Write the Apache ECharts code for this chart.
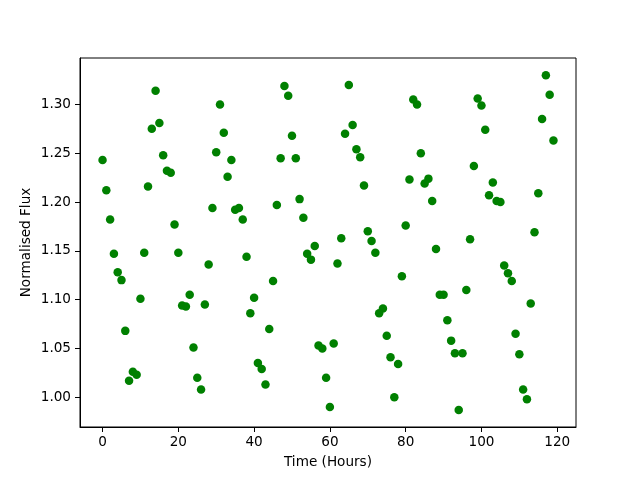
<!DOCTYPE html>
<html>
<head>
<meta charset="utf-8">
<script src="https://cdn.jsdelivr.net/npm/echarts@6/dist/echarts.min.js"></script>
<style>html,body{margin:0;padding:0;background:#fff}#c{width:640px;height:480px}</style>
</head>
<body>
<div id="c"></div>
<script>
const hours = [];
for (let i = 0; i < 120; i++) hours.push(i);
const flux = [
1.243,1.212,1.182,1.147,1.128,1.120,1.068,1.017,1.026,1.023,
1.101,1.148,1.216,1.275,1.314,1.281,1.248,1.232,1.230,1.177,
1.148,1.094,1.093,1.105,1.051,1.020,1.008,1.095,1.136,1.194,
1.251,1.300,1.271,1.226,1.243,1.192,1.194,1.182,1.144,1.086,
1.102,1.035,1.029,1.013,1.070,1.119,1.197,1.245,1.319,1.309,
1.268,1.245,1.203,1.184,1.147,1.141,1.155,1.053,1.050,1.020,
0.990,1.055,1.137,1.163,1.270,1.320,1.279,1.254,1.246,1.217,
1.170,1.160,1.148,1.086,1.091,1.063,1.041,1.000,1.034,1.124,
1.176,1.223,1.305,1.300,1.250,1.219,1.224,1.201,1.152,1.105,
1.105,1.079,1.058,1.045,0.987,1.045,1.110,1.162,1.237,1.306,
1.299,1.274,1.207,1.220,1.201,1.200,1.135,1.127,1.119,1.065,
1.044,1.008,0.998,1.096,1.169,1.209,1.285,1.330,1.310,1.263
];
const xTicks = [0, 20, 40, 60, 80, 100, 120];
const yTicks = [1.00, 1.05, 1.10, 1.15, 1.20, 1.25, 1.30];

const data = hours.map((h, i) => [h, flux[i]]);
const font = 'DejaVu Sans';
const fs = 13.6;
const chart = echarts.init(document.getElementById('c'), null, {renderer: 'canvas'});
chart.setOption({
  animation: false,
  backgroundColor: '#fff',
  grid: {left: 80, right: 64, top: 58, bottom: 53, show: true, borderColor: '#000', borderWidth: 1, backgroundColor: 'transparent'},
  xAxis: {
    type: 'value', min: -5.95, max: 124.95,
    name: 'Time (Hours)', nameLocation: 'middle', nameGap: 28, nameMoveOverlap: false,
    nameTextStyle: {fontFamily: font, fontSize: fs, color: '#000'},
    splitLine: {show: false},
    axisLine: {show: true, onZero: false, lineStyle: {color: '#000', width: 1}},
    axisTick: {show: true, length: 5, lineStyle: {color: '#000'}, customValues: xTicks},
    axisLabel: {fontFamily: font, fontSize: fs, color: '#000', margin: 8, customValues: xTicks,
      formatter: v => String(v)}
  },
  yAxis: {
    type: 'value', min: 0.9695, max: 1.3476,
    name: 'Normalised Flux', nameLocation: 'middle', nameGap: 47, nameMoveOverlap: false,
    nameTextStyle: {fontFamily: font, fontSize: fs, color: '#000'},
    splitLine: {show: false},
    axisLine: {show: true, onZero: false, lineStyle: {color: '#000', width: 1}},
    axisTick: {show: true, length: 5, lineStyle: {color: '#000'}, customValues: yTicks},
    axisLabel: {fontFamily: font, fontSize: fs, color: '#000', margin: 9, customValues: yTicks,
      formatter: v => v.toFixed(2)}
  },
  series: [{
    type: 'scatter',
    data: data,
    symbolSize: 8.5,
    itemStyle: {color: '#008000', opacity: 1},
    emphasis: {disabled: true}
  }]
});
</script>
</body>
</html>
